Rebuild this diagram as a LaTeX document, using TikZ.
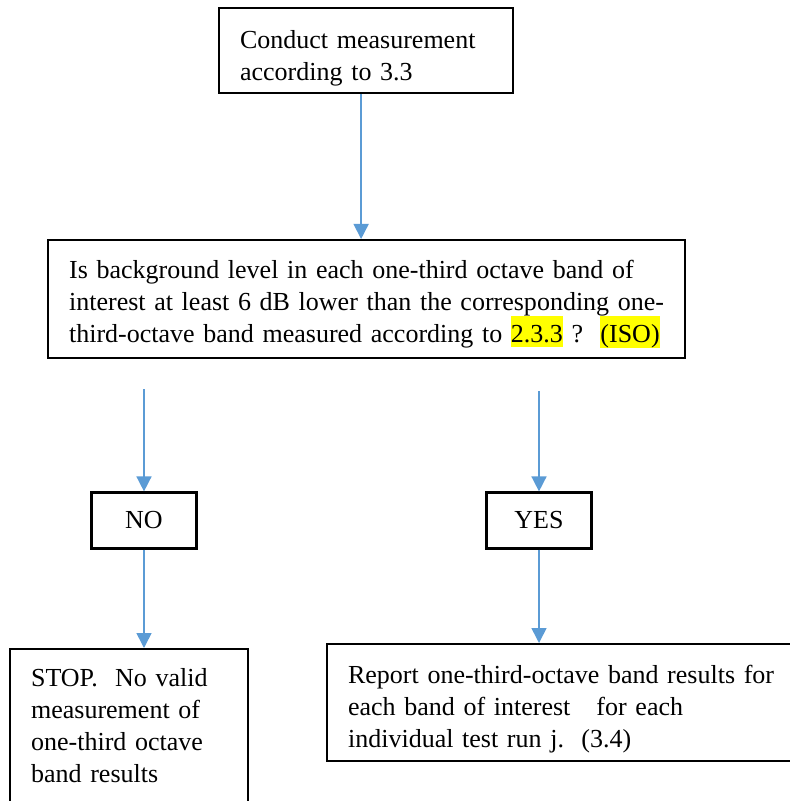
\documentclass[tikz,border=0pt]{standalone}
\usepackage{fontspec}
\setmainfont{Liberation Serif}
\usetikzlibrary{arrows.meta}
\definecolor{arrowblue}{HTML}{5B9BD5}
\definecolor{hlyellow}{HTML}{FFFF00}
\newcommand{\hlmark}[1]{{\setlength{\fboxsep}{0pt}\colorbox{hlyellow}{\rule[-2.5pt]{0pt}{15.5pt}#1}}}
\tikzstyle{process} = [rectangle, draw=black, line width=1.1pt, anchor=north west, align=left, inner xsep=10.5pt, inner ysep=0pt, font=\fontsize{13pt}{16pt}\selectfont]
\tikzstyle{answer} = [rectangle, draw=black, line width=1.1pt, minimum width=52.5pt, minimum height=28pt, inner sep=0pt, font=\fontsize{13pt}{16pt}\selectfont]
\tikzstyle{arrow} = [draw=arrowblue, line width=0.8pt, -{Triangle[length=7.5pt, width=7.5pt]}]

\begin{document}
\begin{tikzpicture}[x=0.5pt, y=-0.5pt]
    \useasboundingbox (0,0) rectangle (790,801);

    \node (measure) [process, text width=126pt, text height=20pt, text depth=22.5pt] at (218,7) {Conduct measurement\\according to 3.3};
    \node (check) [process, text width=297.5pt, text height=19pt, text depth=40pt] at (47,239) {\mbox{Is background level in each one-third octave band of}\\\mbox{interest at least 6 dB lower than the corresponding one-}\\\mbox{third-octave band measured according to \hlmark{2.3.3} ?\ \ \hlmark{(ISO)}}};
    \node (nobox) [answer] at (144,520.5) {NO};
    \node (yesbox) [answer] at (539,520.5) {YES};
    \node (stop) [process, text width=98pt, text height=18.5pt, text depth=70pt] at (9,648) {STOP.\ \ No valid\\measurement of\\one-third octave\\band results};
    \node (report) [process, text width=226pt, text height=19.5pt, text depth=39pt] at (326,643) {Report one-third-octave band results for\\each band of interest\ \ \ for each\\individual test run j.\ \ (3.4)};

    \draw [arrow] ([xshift=-2.5pt]measure.south) -- ([xshift=-2.5pt]measure.south |- check.north);
    \draw [arrow] ([yshift=-15pt]check.south -| nobox.north) -- (nobox.north);
    \draw [arrow] ([yshift=-16pt]check.south -| yesbox.north) -- (yesbox.north);
    \draw [arrow] (nobox.south) -- (nobox.south |- stop.north);
    \draw [arrow] (yesbox.south) -- (yesbox.south |- report.north);
\end{tikzpicture}
\end{document}
